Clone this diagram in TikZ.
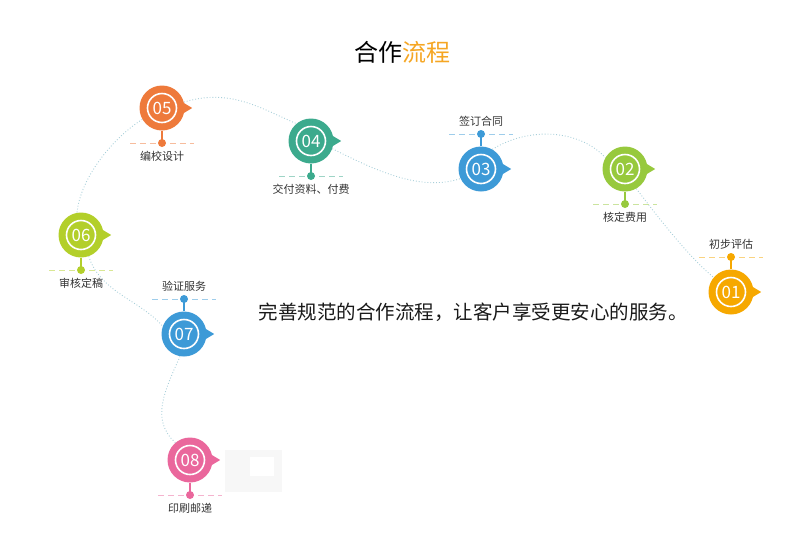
\documentclass[tikz,border=0pt]{standalone}
\usepackage{fontspec}
\setmainfont{Noto Sans CJK SC}
\usetikzlibrary{backgrounds}

\definecolor{cA}{HTML}{F6A800}
\definecolor{cB}{HTML}{97C93D}
\definecolor{cC}{HTML}{3D9AD7}
\definecolor{cD}{HTML}{3CAA8D}
\definecolor{cE}{HTML}{EE7A3B}
\definecolor{cF}{HTML}{B3CF2A}
\definecolor{cH}{HTML}{EA679C}
\definecolor{flowc}{HTML}{A9CFDA}
\definecolor{textc}{HTML}{333333}
\definecolor{titleorg}{HTML}{F5A623}

\tikzset{
  stepcircle/.style={circle, minimum size=45pt, inner sep=0pt, text=white,
    font=\fontsize{17}{17}\selectfont},
  steplabel/.style={font=\fontsize{11}{11}\selectfont, text=textc},
  flow/.style={dotted, line width=0.9pt, color=flowc},
}

\begin{document}
\begin{tikzpicture}[x=1pt, y=-1pt]
    \useasboundingbox (0,0) rectangle (793,539);

    % Title and slogan
    \node[font=\fontsize{24}{24}\selectfont, text=black] (title) at (402,52) {合作\textcolor{titleorg}{流程}};
    \node[font=\fontsize{19.5}{19.5}\selectfont, text=black!90] (slogan) at (473,312) {完善规范的合作流程，让客户享受更安心的服务。};

    % faint box beside 08
    \fill[black!3] (225,450) rectangle (282,492);
    \fill[white] (250,457) rectangle (274,476);

    % Steps: number / x / y / colour / label / side (1 below, -1 above)
    \foreach \n/\x/\y/\c/\t/\s in {
        01/731/292/cA/初步评估/-1,
        02/625/169/cB/核定费用/1,
        03/481/169/cC/签订合同/-1,
        04/311/141/cD/交付资料、付费/1,
        05/162/108/cE/编校设计/1,
        06/81/235/cF/审核定稿/1,
        07/184/334/cC/验证服务/-1,
        08/190/460/cH/印刷邮递/1}
    {
        \pgfmathsetmacro\ydot{\y+(\s)*35}
        \pgfmathsetmacro\ytxt{\y+(\s)*48}
        \coordinate (d\n) at (\x,\ydot);
        \draw[\c!50, dash pattern=on 6pt off 4pt, line width=1pt] (\x-32,\ydot) -- (\x+32,\ydot);
        \node[stepcircle, fill=\c] (s\n) at (\x,\y) {\n};
        \draw[white, line width=1.6pt] (s\n.center) circle (14.5pt);
        \fill[\c] (s\n.east) ++(-5,-7.5) -- ++(12.5,7.5) -- ++(-12.5,7.5) -- cycle;
        \draw[\c, line width=1.5pt] (s\n) -- (d\n);
        \fill[\c] (d\n) circle (4pt);
        \node[steplabel] (l\n) at (\x,\ytxt) {\t};
    }

    % Dotted route behind the steps
    \begin{pgfonlayer}{background}
        \draw[flow] (s05.15) .. controls (230,88) and (260,108) .. (s04.130);
        \draw[flow] (s04.-20) .. controls (375,170) and (420,192) .. (s03.205);
        \draw[flow] (s03.60) .. controls (530,126) and (580,130) .. (s02.150);
        \draw[flow] (s02.-60) .. controls (660,220) and (690,258) .. (s01.140);
        \draw[flow] (s05.210) .. controls (110,140) and (80,180) .. (s06.100);
        \draw[flow] (s06.-70) .. controls (100,292) and (140,300) .. (s07.160);
        \draw[flow] (s07.-100) .. controls (165,390) and (150,420) .. (s08.130);
    \end{pgfonlayer}
\end{tikzpicture}
\end{document}
